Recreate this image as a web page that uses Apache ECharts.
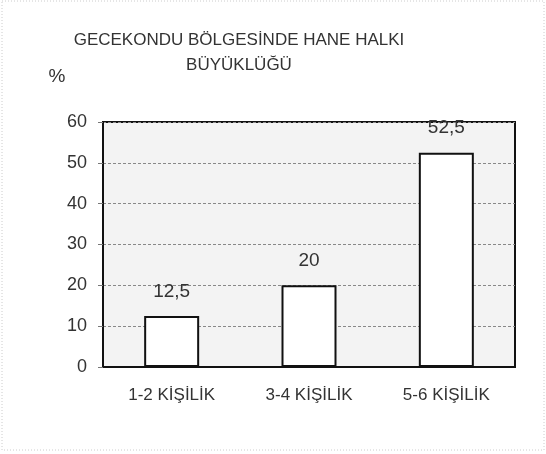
<!DOCTYPE html>
<html>
<head>
<meta charset="utf-8">
<script src="https://cdn.jsdelivr.net/npm/echarts@6/dist/echarts.min.js"></script>
<style>
  html, body { margin: 0; padding: 0; background: #fff; }
  #chart { width: 546px; height: 454px; }
</style>
</head>
<body>
<div id="chart"></div>
<script>
// hane halkı büyüklüğü (%)
const categories = ['1-2 KİŞİLİK', '3-4 KİŞİLİK', '5-6 KİŞİLİK'];
const values = [12.5, 20, 52.5];
const yTicks = [0, 10, 20, 30, 40, 50, 60];
const titleLines = ['GECEKONDU BÖLGESİNDE HANE HALKI', 'BÜYÜKLÜĞÜ'];

const font = 'Liberation Sans, Arial, sans-serif';
const chart = echarts.init(document.getElementById('chart'));

const option = {
  backgroundColor: '#fff',
  animation: false,
  graphic: [
    { type: 'text', x: 239, y: 40, style: { text: titleLines[0], font: '17px ' + font, fill: '#333', align: 'center', verticalAlign: 'middle' } },
    { type: 'text', x: 239, y: 65, style: { text: titleLines[1], font: '17px ' + font, fill: '#333', align: 'center', verticalAlign: 'middle' } },
    { type: 'text', x: 57, y: 77, style: { text: '%', font: '19px ' + font, fill: '#333', align: 'center', verticalAlign: 'middle' } },
    { type: 'rect', shape: { x: 2, y: 1, width: 542, height: 449 }, style: { fill: 'none', stroke: '#ccc', lineWidth: 1, lineDash: [1, 2] }, z: -1 }
  ],
  grid: {
    left: 103, right: 31, top: 122, bottom: 87,
    show: true, backgroundColor: '#f3f3f3', borderColor: '#111', borderWidth: 2
  },
  xAxis: {
    type: 'category',
    data: categories,
    axisTick: { show: false },
    axisLine: { lineStyle: { color: '#111', width: 2 } },
    axisLabel: { fontFamily: font, fontSize: 17, color: '#333', margin: 20 }
  },
  yAxis: {
    type: 'value',
    min: yTicks[0],
    max: yTicks[yTicks.length - 1],
    interval: 10,
    axisLine: { show: true, lineStyle: { color: '#111', width: 2 } },
    axisTick: { show: true, length: 5, lineStyle: { color: '#777', width: 1 } },
    axisLabel: { fontFamily: font, fontSize: 18, color: '#333', margin: 16 },
    splitLine: { lineStyle: { color: '#888', type: [3, 2], width: 1 } }
  },
  series: [{
    type: 'bar',
    data: values,
    barWidth: 55,
    itemStyle: { color: '#fff', borderColor: '#111', borderWidth: 2 },
    label: {
      show: true,
      position: 'top',
      distance: 15,
      fontFamily: font,
      fontSize: 19,
      color: '#333',
      formatter: p => String(p.value).replace('.', ',')
    }
  }]
};

chart.setOption(option);
</script>
</body>
</html>
